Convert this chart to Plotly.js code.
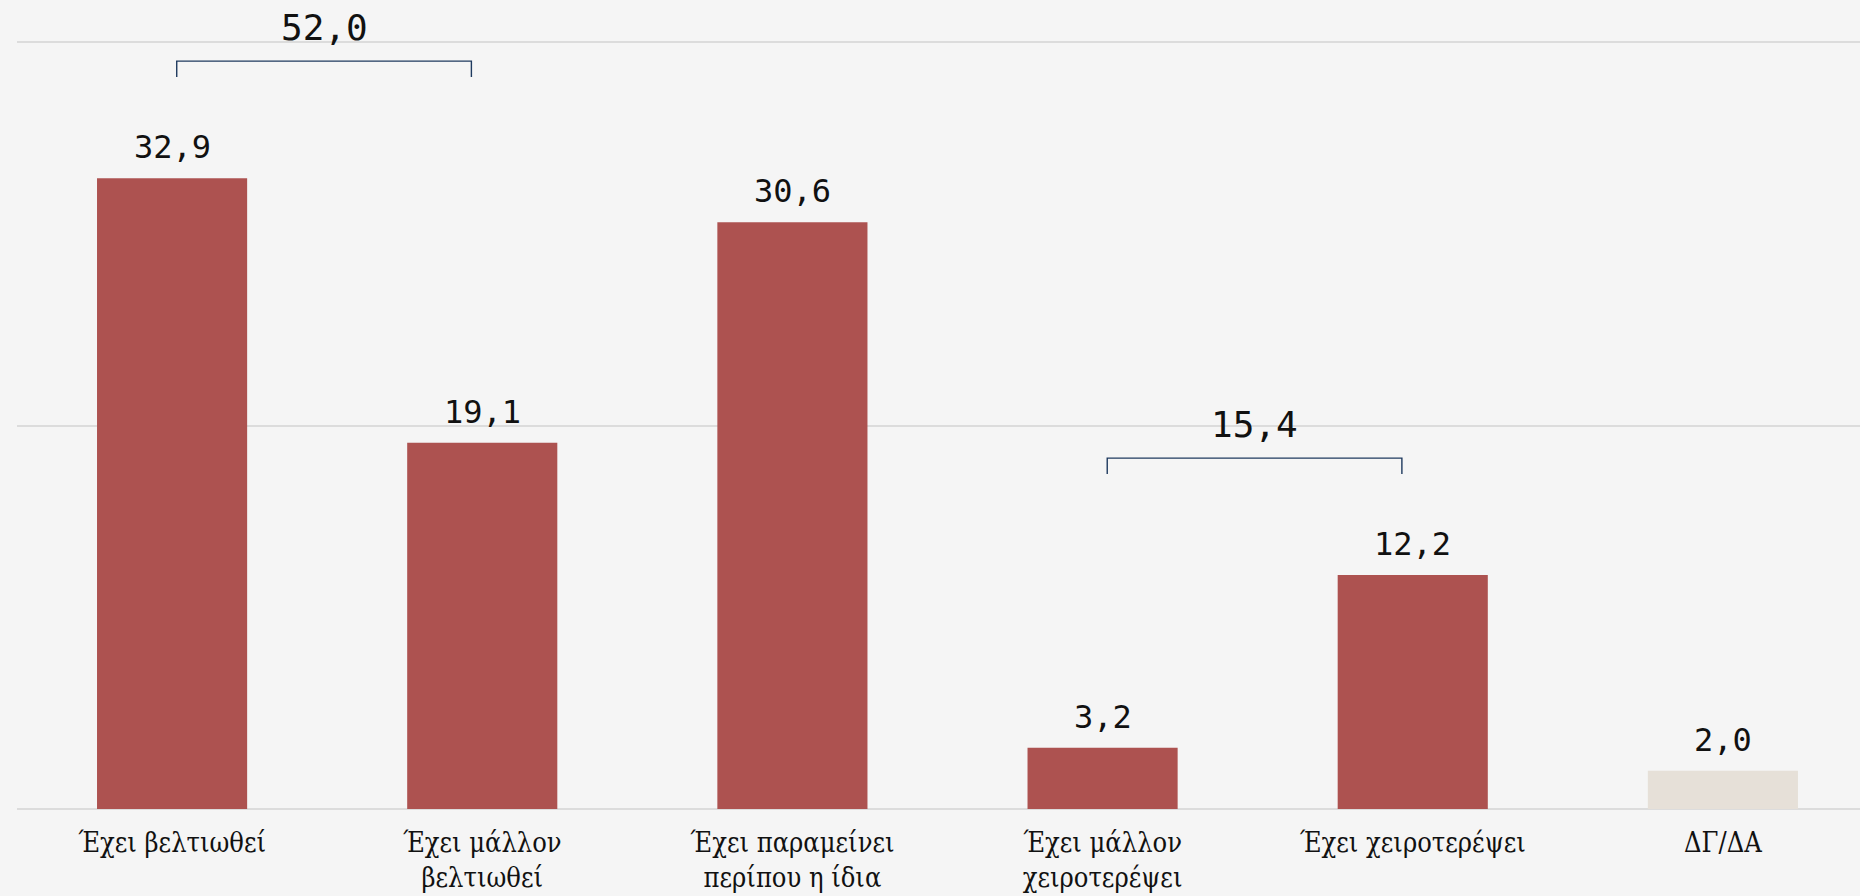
<!DOCTYPE html>
<html>
<head>
<meta charset="utf-8">
<script src="https://cdn.plot.ly/plotly-3.0.1.min.js"></script>
<style>
html,body{margin:0;padding:0;background:#f5f5f5;}
#chart{width:1860px;height:896px;}
</style>
</head>
<body>
<div id="chart"></div>
<script>
// ---- data ----
const categories = ["Έχει βελτιωθεί", "Έχει μάλλον<br>βελτιωθεί", "Έχει παραμείνει<br>περίπου η ίδια", "Έχει μάλλον<br>χειροτερέψει", "Έχει χειροτερέψει", "ΔΓ/ΔΑ"];
const values = [32.9, 19.1, 30.6, 3.2, 12.2, 2.0];
const barColors = ["#ad5250", "#ad5250", "#ad5250", "#ad5250", "#ad5250", "#e6e0d8"];
const groupStart = [0, 3];
const groupEnd = [1, 4];
const yTicks = [0, 20, 40];

const fmt = v => v.toFixed(1).replace('.', ',');
const xIdx = categories.map((c, i) => i);

const annotations = [];
const shapes = [];

// value labels
values.forEach((v, i) => {
  annotations.push({
    x: i, y: v, xref: 'x', yref: 'y',
    text: fmt(v), showarrow: false,
    yanchor: 'bottom', yshift: 10,
    font: {family: 'DejaVu Sans Mono, monospace', size: 32, color: '#111'}
  });
});

// group brackets
const bracketColor = '#1f3a5f';
groupStart.forEach((s, g) => {
  const e = groupEnd[g];
  let sum = 0, mx = 0;
  for (let i = s; i <= e; i++) { sum += values[i]; mx = Math.max(mx, values[i]); }
  const top = mx + 6.1;
  const tick = 0.83;
  const x0 = s + 0.015, x1 = e - 0.035;
  shapes.push({
    type: 'path', xref: 'x', yref: 'y',
    path: `M ${x0} ${top - tick} L ${x0} ${top} L ${x1} ${top} L ${x1} ${top - tick}`,
    line: {color: bracketColor, width: 1.4}
  });
  annotations.push({
    x: (x0 + x1) / 2, y: top, xref: 'x', yref: 'y',
    text: fmt(sum), showarrow: false,
    yanchor: 'middle', yshift: 34,
    font: {family: 'DejaVu Sans Mono, monospace', size: 36, color: '#111'}
  });
});

const trace = {
  type: 'bar',
  x: xIdx,
  y: values,
  marker: {color: barColors},
  hoverinfo: 'none'
};

const layout = {
  width: 1860, height: 896,
  paper_bgcolor: '#f5f5f5',
  plot_bgcolor: '#f5f5f5',
  margin: {l: 17, r: 0, t: 0, b: 87, pad: 0},
  bargap: 0.516,
  showlegend: false,
  xaxis: {
    range: [-0.5, 5.442],
    tickmode: 'array',
    tickvals: xIdx,
    ticktext: categories,
    showgrid: false, zeroline: false, showline: false,
    ticks: '', ticklabelstandoff: 15,
    tickfont: {family: 'DejaVu Serif Condensed, DejaVu Serif, serif', size: 27, color: '#111'},
    fixedrange: true
  },
  yaxis: {
    range: [0, 42.19],
    tickmode: 'array',
    tickvals: yTicks,
    showticklabels: false,
    showgrid: true, gridcolor: '#dcdcdc', gridwidth: 2,
    zeroline: true, zerolinecolor: '#dcdcdc', zerolinewidth: 2,
    showline: false, ticks: '',
    fixedrange: true
  },
  annotations: annotations,
  shapes: shapes
};

Plotly.newPlot('chart', [trace], layout, {displayModeBar: false, staticPlot: true});
</script>
</body>
</html>
